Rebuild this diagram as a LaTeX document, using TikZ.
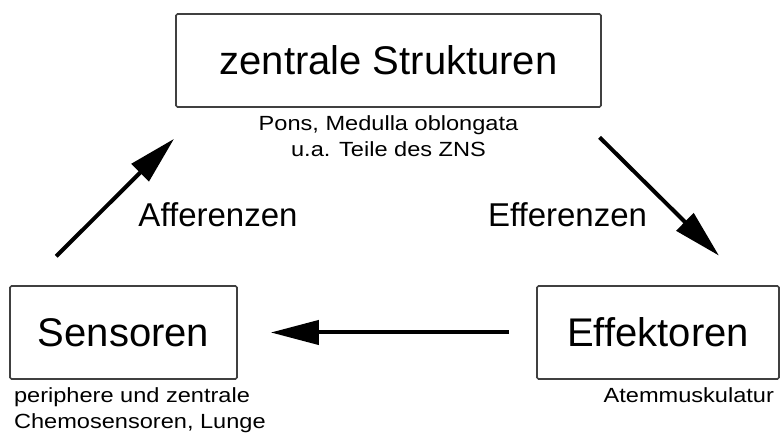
\documentclass[tikz,border=0pt]{standalone}
\usepackage{fontspec}
\setmainfont{Liberation Sans}
\usetikzlibrary{arrows.meta}

\tikzset{
  kasten/.style={draw=black!75, line width=1.6pt, rounded corners=1.5pt,
    minimum height=93pt, inner sep=0pt, font=\fontsize{40}{46}\selectfont},
  pfeil/.style={line width=4pt, -{Triangle[length=48pt,width=24pt]}},
  marke/.style={font=\fontsize{33}{38}\selectfont},
  klein/.style={font=\fontsize{20.5}{26}\selectfont, xscale=1.15}
}

\begin{document}
\begin{tikzpicture}[x=1pt, y=1pt]
  \useasboundingbox (0,0) rectangle (780,435);

  % boxes
  \node[kasten, minimum width=425pt] (zent) at (388.5,374.5) {zentrale Strukturen};
  \node[kasten, minimum width=227pt] (sens) at (123.5,102.5) {Sensoren};
  \node[kasten, minimum width=242pt] (eff) at (658,102.5) {Effektoren};

  % small labels under the boxes (base = last line)
  \node[klein, anchor=base, align=center] (zentinfo) at (388.5,278)
    {Pons, Medulla oblongata\\u.a. Teile des ZNS};
  \node[klein, anchor=base west, align=left] (sensinfo) at (10,6)
    {periphere und zentrale\\Chemosensoren, Lunge};
  \node[klein, anchor=base east] (effinfo) at (778,32) {Atemmuskulatur};

  % arrows
  \draw[pfeil, shorten <=41pt, shorten >=44pt]
    ([xshift=18pt]sens.north west) -- ([xshift=30pt]zent.south west);
  \draw[pfeil, shorten <=42pt, shorten >=42pt]
    ([xshift=-32pt]zent.south east) -- ([xshift=-31pt]eff.north east);
  \draw[pfeil, shorten <=27pt, shorten >=33pt] (eff.west) -- (sens.east);

  % arrow labels
  \node[marke, anchor=base] (aff) at (218,208) {Afferenzen};
  \node[marke, anchor=base] (eff-lbl) at (567.5,208) {Efferenzen};
\end{tikzpicture}
\end{document}
